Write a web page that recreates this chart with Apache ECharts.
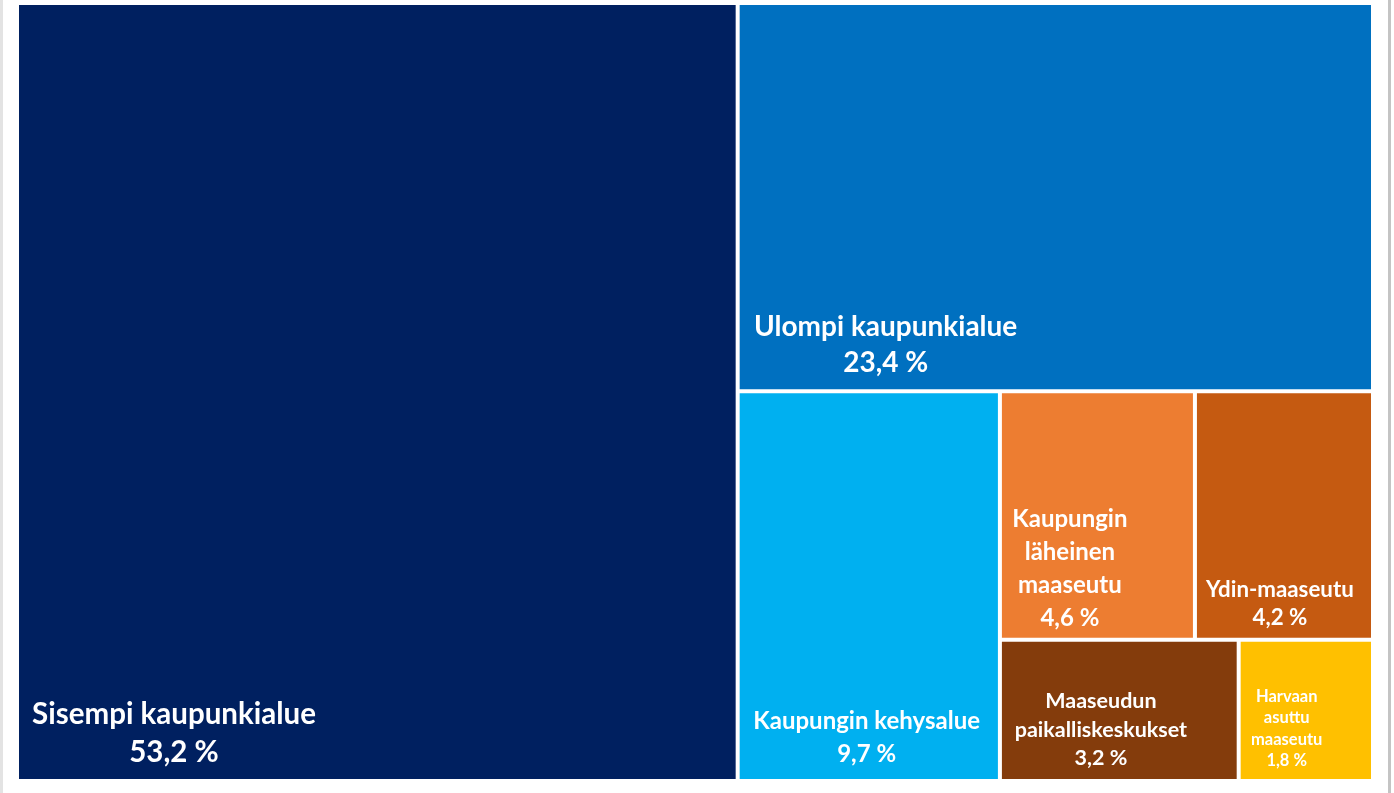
<!DOCTYPE html>
<html>
<head>
<meta charset="utf-8">
<script src="https://cdn.jsdelivr.net/npm/echarts@6/dist/echarts.min.js"></script>
<style>
html,body{margin:0;padding:0;background:#fff;}
#chart{width:1394px;height:793px;}
</style>
</head>
<body>
<div id="chart"></div>
<script>
// Data
var categories = [
  'Sisempi kaupunkialue',
  'Ulompi kaupunkialue',
  'Kaupungin kehysalue',
  'Kaupungin läheinen maaseutu',
  'Ydin-maaseutu',
  'Maaseudun paikalliskeskukset',
  'Harvaan asuttu maaseutu'
];
var values = [53.2, 23.4, 9.7, 4.6, 4.2, 3.2, 1.8];
// label text lines (as shown in the picture)
var labelLines = [
  ['Sisempi kaupunkialue'],
  ['Ulompi kaupunkialue'],
  ['Kaupungin kehysalue'],
  ['Kaupungin', 'läheinen', 'maaseutu'],
  ['Ydin-maaseutu'],
  ['Maaseudun', 'paikalliskeskukset'],
  ['Harvaan', 'asuttu', 'maaseutu']
];

// Styles (kept separate from data)
var colors = ['#002060', '#0070C0', '#00B0F0', '#ED7D31', '#C55A11', '#843C0C', '#FFC000'];
var labelStyles = [
  {pos: [155, 728], size: 29.5, lh: 38},
  {pos: [146, 340], size: 28, lh: 36},
  {pos: [127, 345], size: 24, lh: 33},
  {pos: [68, 176], size: 24, lh: 33},
  {pos: [83, 211], size: 22.3, lh: 28},
  {pos: [99, 88], size: 21.5, lh: 28.5},
  {pos: [46, 87], size: 16.5, lh: 21.5}
];

function fmt(v) {
  return v.toFixed(1).replace('.', ',') + ' %';
}

var data = categories.map(function (name, i) {
  var st = labelStyles[i];
  return {
    name: name,
    value: values[i],
    itemStyle: {color: colors[i]},
    label: {
      show: true,
      position: st.pos,
      align: 'center',
      verticalAlign: 'middle',
      fontSize: st.size,
      lineHeight: st.lh,
      overflow: 'none',
      formatter: labelLines[i].join('\n') + '\n' + fmt(values[i])
    }
  };
});

var chart = echarts.init(document.getElementById('chart'), null, {renderer: 'canvas'});
chart.setOption({
  animation: false,
  backgroundColor: '#ffffff',
  tooltip: {show: false},
  graphic: [
    {type: 'rect', shape: {x: 0, y: 0, width: 3, height: 793}, style: {fill: '#e3e3e3'}, silent: true},
    {type: 'rect', shape: {x: 1388, y: 0, width: 3, height: 793}, style: {fill: '#c4c4c4'}, silent: true}
  ],
  series: [{
    type: 'treemap',
    left: 19,
    top: 5,
    width: 1352,
    height: 774,
    roam: false,
    nodeClick: false,
    breadcrumb: {show: false},
    squareRatio: 1,
    sort: 'desc',
    itemStyle: {gapWidth: 4, borderWidth: 0, borderColor: '#fff'},
    label: {
      show: true,
      color: '#ffffff',
      fontFamily: 'Lato',
      fontWeight: 'bold',
      overflow: 'none'
    },
    upperLabel: {show: false},
    emphasis: {disabled: true},
    levels: [
      {itemStyle: {gapWidth: 4, borderWidth: 0}},
      {itemStyle: {gapWidth: 0, borderWidth: 0}}
    ],
    data: data
  }]
});
</script>
</body>
</html>
